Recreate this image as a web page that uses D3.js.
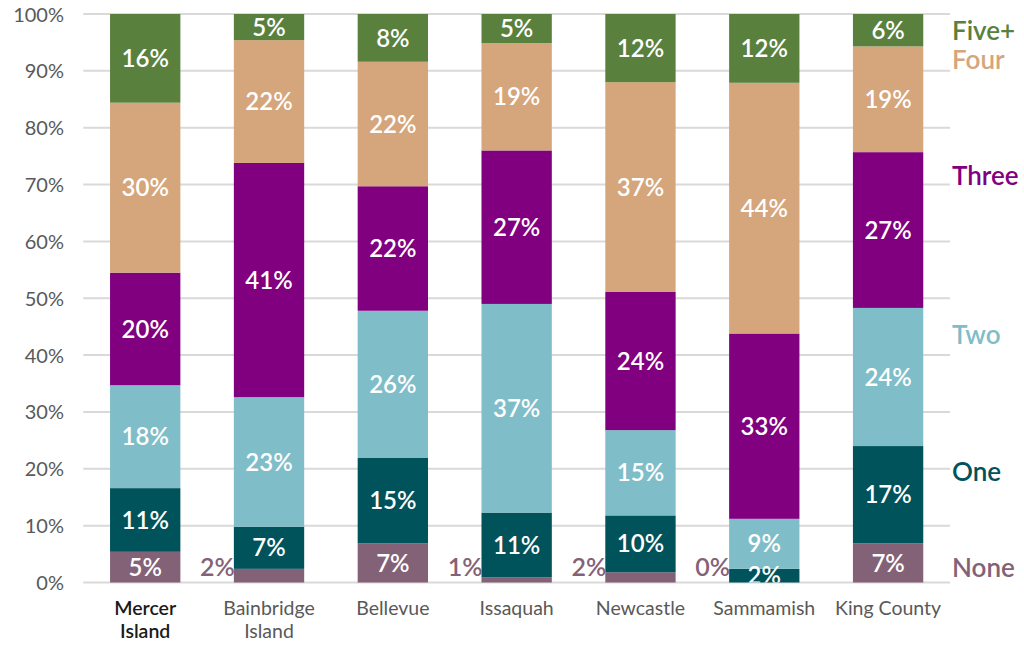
<!DOCTYPE html>
<html><head><meta charset="utf-8">
<script src="https://cdn.jsdelivr.net/npm/d3@7"></script>
<style>
body{margin:0;background:#fff;}
svg{display:block;font-family:Lato,"Open Sans",sans-serif;}
</style></head>
<body><svg id="c" width="1024" height="645"></svg>
<script>
const categories = ["Mercer Island","Bainbridge Island","Bellevue","Issaquah","Newcastle","Sammamish","King County"];
const seriesNames = ["None","One","Two","Three","Four","Five+"];
const noneVals  = [5.4, 2.4, 6.9, 0.9, 1.8, 0.0, 6.9];
const oneVals   = [11.2, 7.4, 15.0, 11.4, 10.0, 2.4, 17.1];
const twoVals   = [18.1, 22.8, 25.9, 36.7, 15.0, 8.8, 24.3];
const threeVals = [19.8, 41.2, 21.9, 27.0, 24.3, 32.6, 27.4];
const fourVals  = [29.9, 21.6, 21.9, 18.9, 36.9, 44.1, 18.6];
const fiveVals  = [15.6, 4.6, 8.4, 5.1, 12.0, 12.1, 5.7];
const yTicks = [0,10,20,30,40,50,60,70,80,90,100];

const colors = ["#836278","#00525b","#7fbdc8","#800080","#d5a57b","#5a803e"];
const legendY = [2.6, 19.5, 43.6, 71.6, 92, 97.1]; // layout: label y in % units

const seriesVals = [noneVals, oneVals, twoVals, threeVals, fourVals, fiveVals];
const table = categories.map((c,i)=>{
  const o = {cat:c};
  seriesNames.forEach((s,j)=>o[s]=seriesVals[j][i]);
  return o;
});
const stacked = d3.stack().keys(seriesNames)(table);

const svg = d3.select("#c");
const x = d3.scaleBand().domain(categories).range([83.3,950]).paddingInner(0.432).paddingOuter(0.216);
const y = d3.scaleLinear().domain([0,100]).range([582.5,14]);

// gridlines
svg.append("g").selectAll("line").data(yTicks).join("line")
  .attr("x1",83.3).attr("x2",950).attr("y1",d=>y(d)).attr("y2",d=>y(d))
  .attr("stroke","#d9d9d9").attr("stroke-width",2);

// y axis labels
const yAxis = d3.axisLeft(y).tickValues(yTicks).tickFormat(d=>d+"%").tickSize(0).tickPadding(0);
const ya = svg.append("g").attr("transform","translate(64,0)").call(yAxis);
ya.select(".domain").remove();
ya.selectAll("text").attr("font-family","Lato").attr("font-size",20).attr("fill","#595959").attr("dy","0.35em");

// clip
svg.append("clipPath").attr("id","plotclip").append("rect")
  .attr("x",0).attr("y",0).attr("width",1024).attr("height",y(0));

// bars
const layers = svg.append("g").selectAll("g").data(stacked).join("g")
  .attr("fill",(d,i)=>colors[i]);
layers.selectAll("rect").data(d=>d.map(v=>({v,cat:v.data.cat}))).join("rect")
  .attr("x",d=>x(d.cat)).attr("width",x.bandwidth())
  .attr("y",d=>y(d.v[1])).attr("height",d=>y(d.v[0])-y(d.v[1]));

// value labels
const fmt = v => Math.round(v) + "%";
const lab = svg.append("g").attr("clip-path","url(#plotclip)");
stacked.forEach((layer,i)=>{
  layer.forEach(v=>{
    const val = v[1]-v[0];
    const cat = v.data.cat;
    if (i===0 && val < 3) {
      lab.append("text").attr("x",x(cat)+1).attr("y",y(2.8)).attr("dy","0.36em")
        .attr("text-anchor","end").attr("font-size",25).attr("font-weight",600).attr("fill",colors[0])
        .text(fmt(val));
    } else {
      lab.append("text").attr("x",x(cat)+x.bandwidth()/2).attr("y",(y(v[0])+y(v[1]))/2).attr("dy","0.36em")
        .attr("text-anchor","middle").attr("font-size",24).attr("font-weight",600).attr("fill","#fff")
        .text(fmt(val));
    }
  });
});

// category labels
const xa = svg.append("g");
categories.forEach((c,i)=>{
  const words = c.split(" ");
  const lines = (c==="King County") ? [c] : (words.length>1 ? words : [c]);
  const t = xa.append("text").attr("x",x(c)+x.bandwidth()/2).attr("text-anchor","middle")
    .attr("font-size",19.5).attr("fill", i===0 ? "#1a1a1a" : "#595959")
    .attr("font-weight", i===0 ? 600 : "normal");
  lines.forEach((l,k)=>t.append("tspan").attr("x",x(c)+x.bandwidth()/2).attr("y",615+k*23).text(l));
});

// legend labels
seriesNames.forEach((s,i)=>{
  svg.append("text").attr("x",952).attr("y",y(legendY[i])).attr("dy","0.35em")
    .attr("font-size",26).attr("font-weight",600).attr("fill",colors[i]).text(s);
});
</script></body></html>
